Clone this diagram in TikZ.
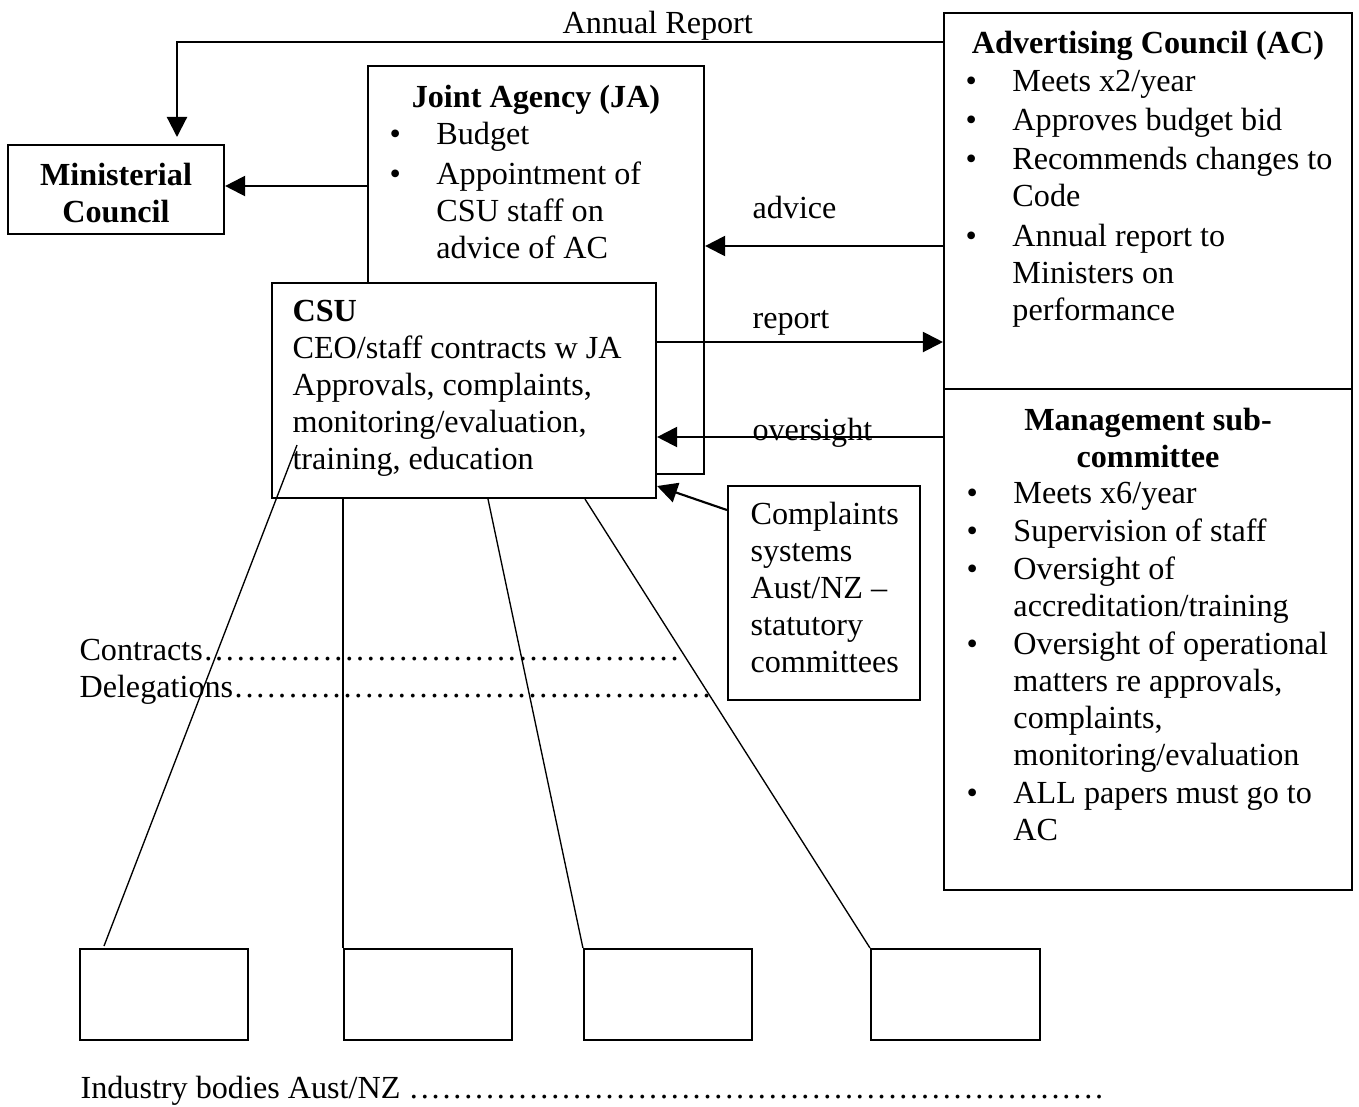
\documentclass[tikz,border=0pt]{standalone}
\usepackage{fontspec}
\setmainfont{Liberation Serif}
\usetikzlibrary{arrows.meta,fit}
\newcommand{\sz}{\fontsize{12pt}{13.8pt}\selectfont}
\newcommand{\bul}{\makebox[17.5pt][l]{\textbullet}}
\newcommand{\hang}{\hspace*{17.5pt}}
\newcommand{\leadto}[2]{\makebox[#1][l]{#2\xleaders\hbox to 4pt{\hss.\hss}\hfill}}

\begin{document}
\begin{tikzpicture}[x=0.373pt,y=-0.373pt,>={Triangle[length=7.5pt,width=7.5pt]},
    box/.style={draw,line width=0.8pt,inner sep=0pt,fit={#1}},
    txt/.style={inner sep=0pt,anchor=base west,align=left,font=\sz},
    ttl/.style={inner sep=0pt,anchor=base,align=center,font=\sz\bfseries},
    arr/.style={->,line width=0.8pt},
    link/.style={line width=0.5pt}]
  \useasboundingbox (0,0) rectangle (1359,1106);

  % boxes
  \node[box={(8,145) (224,234)}] (mc) {};
  \node[box={(368,66) (704,474)}] (ja) {};
  \node[box={(272,283) (656,498)}, fill=white] (csu) {};
  \node[box={(944,13) (1352,389)}] (ac) {};
  \node[box={(944,389) (1352,890)}] (ms) {};
  \node[box={(728,486) (920,700)}] (cs) {};
  \node[box={(80,949) (248,1040)}] (ib1) {};
  \node[box={(344,949) (512,1040)}] (ib2) {};
  \node[box={(584,949) (752,1040)}] (ib3) {};
  \node[box={(871,949) (1040,1040)}] (ib4) {};

  % box texts (base = last line)
  \node[ttl] (mct) at (mc.north |- 0,222) {Ministerial\\Council};
  \node[ttl] (jat) at (ja.north |- 0,107) {Joint Agency (JA)};
  \node[txt] (jal) at (389,258) {\bul Budget\\[0.8pt]
    \bul Appointment of\\\hang CSU staff on\\\hang advice of AC};
  \node[txt] (csul) at (292,469) {\textbf{CSU}\\CEO/staff contracts w JA\\
    Approvals, complaints,\\monitoring/evaluation,\\training, education};
  \node[ttl] (act) at (ac.north |- 0,53) {Advertising Council (AC)};
  \node[txt] (acl) at (965,320) {\bul Meets x2/year\\[0.8pt]
    \bul Approves budget bid\\[0.8pt]
    \bul Recommends changes to\\\hang Code\\[0.8pt]
    \bul Annual report to\\\hang Ministers on\\\hang performance};
  \node[ttl] (mst) at (ms.north |- 0,467) {Management sub-\\committee};
  \node[txt] (msl) at (966,840) {\bul Meets x6/year\\[0.3pt]
    \bul Supervision of staff\\[0.3pt]
    \bul Oversight of\\\hang accreditation/training\\[0.3pt]
    \bul Oversight of operational\\\hang matters re approvals,\\
    \hang complaints,\\\hang monitoring/evaluation\\[0.3pt]
    \bul ALL papers must go to\\\hang AC};
  \node[txt] (csl) at (750,672) {Complaints\\systems\\Aust/NZ --\\statutory\\committees};

  % labels
  \node[txt] (annual) at (562,33) {Annual Report};
  \node[txt] (advice) at (752,218) {advice};
  \node[txt] (report) at (752,328) {report};
  \node[txt] (oversight) at (752,440) {oversight};
  \node[txt] (contracts) at (79,660) {\leadto{224pt}{Contracts}};
  \node[txt] (delegations) at (79,697) {\leadto{236pt}{Delegations}};
  \node[txt] (industry) at (80,1098) {\leadto{382pt}{Industry bodies Aust/NZ }};

  % arrows
  \coordinate (mcin) at (177,137);
  \draw[arr] (ac.west |- 0,42) -| (mcin);
  \draw[arr] (ja.west |- 0,186) -- (mc.east |- 0,186);
  \draw[arr] (ac.west |- 0,246) -- (ja.east |- 0,246);
  \draw[arr] (csu.east |- 0,342) -- (ac.west |- 0,342);
  \draw[arr] (ms.west |- 0,437) -- (csu.east |- 0,437);
  \draw[arr] (cs.west |- 0,510) -- (csu.east |- 0,486);

  % lines down to industry bodies
  \coordinate (s1) at (297,445);
  \coordinate (e1) at (104,946);
  \draw[link] (s1) -- (e1);
  \draw[link] (csu.south -| ib2.west) -- (ib2.north west);
  \draw[link] (csu.south -| 488,0) -- (ib3.north west);
  \draw[link] (csu.south -| 585,0) -- (ib4.north west);
\end{tikzpicture}
\end{document}
